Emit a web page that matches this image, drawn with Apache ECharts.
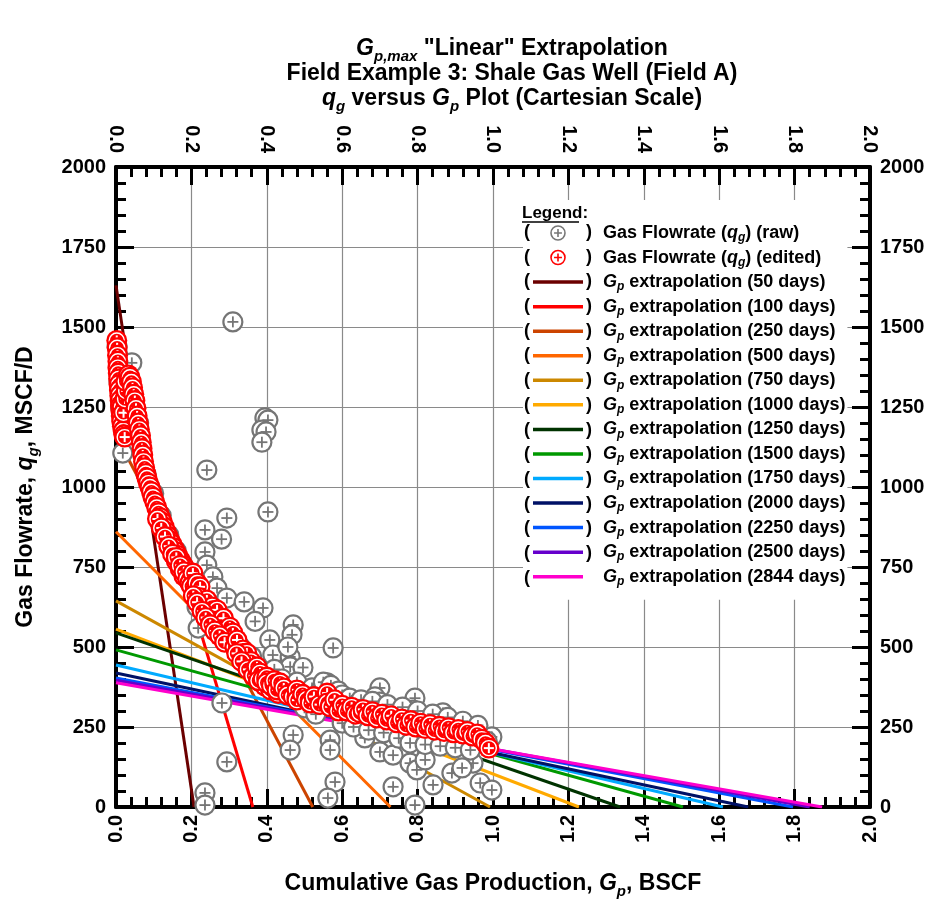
<!DOCTYPE html>
<html><head><meta charset="utf-8">
<script src="https://cdn.jsdelivr.net/npm/echarts@6/dist/echarts.min.js"></script>
<style>html,body{margin:0;padding:0;background:#fff}#c{width:950px;height:905px}</style>
</head><body><div id="c"></div>
<script>
const FONT = "'Liberation Sans', Arial, Helvetica, sans-serif";

// Axis definitions
const xMin = 0, xMax = 2.0, xStep = 0.2;
const yMin = 0, yMax = 2000, yStep = 250;

// Extrapolation lines: (Gp=0, q0) -> (GpMax, 0)
const extrapDays   = [50, 100, 250, 500, 750, 1000, 1250, 1500, 1750, 2000, 2250, 2500, 2844];
const extrapQ0     = [1630, 1435, 1160, 860, 644, 556, 544, 491, 444, 419, 403, 396, 388];
const extrapGpMax  = [0.207, 0.363, 0.522, 0.728, 0.992, 1.228, 1.337, 1.504, 1.61, 1.677, 1.796, 1.84, 1.873];
const extrapColors = ['#6b0000', '#ff0000', '#cc4400', '#ff6600', '#cc8800', '#ffaa00', '#003300', '#009900', '#00aaff', '#001166', '#0055ff', '#6600cc', '#ff00cc'];

// Gas flowrate (raw) [Gp BSCF, qg MSCF/D]
const rawData = [
  [0.003,1440],[0.008,1330],[0.012,1250],[0.018,1106],[0.042,1388],[0.03,1300],[0.06,1200],[0.08,1040],
  [0.10,980],[0.12,910],[0.14,850],[0.16,800],[0.18,750],[0.20,700],
  [0.310,1516],[0.241,1053],[0.395,1216],[0.403,1209],[0.387,1178],[0.398,1172],[0.387,1140],[0.403,922],
  [0.294,903],[0.236,866],[0.280,837],[0.236,797],[0.241,756],[0.257,719],[0.268,684],[0.294,653],
  [0.340,641],[0.390,622],[0.369,580],[0.470,569],[0.467,538],[0.408,522],[0.416,475],[0.462,469],
  [0.462,438],[0.496,436],[0.456,500],[0.576,497],[0.218,559],[0.215,625],[0.560,388],[0.281,325],
  [0.294,141],[0.236,44],[0.236,6],[0.470,225],[0.462,178],[0.568,209],[0.568,178],[0.581,78],
  [0.562,28],[0.700,372],[0.687,344],[0.700,328],[0.793,340],[0.788,303],[0.867,294],[0.878,278],
  [0.997,219],[0.660,216],[0.700,172],[0.735,162],[0.780,137],[0.798,116],[0.891,106],[0.820,147],
  [0.841,69],[0.735,63],[0.793,6],[0.966,75],[0.997,53],[0.947,137],[0.918,122],
  [0.25,600],[0.30,540],[0.33,500],[0.36,470],[0.42,430],[0.44,400],[0.48,390],[0.52,372],
  [0.54,360],[0.55,390],[0.57,380],[0.58,350],[0.59,362],[0.60,350],[0.62,340],[0.64,322],
  [0.65,335],[0.68,330],[0.72,320],[0.76,312],[0.80,300],[0.84,290],[0.88,280],[0.92,268],
  [0.96,255],[0.50,310],[0.53,290],[0.60,262],[0.63,250],[0.67,240],[0.71,232],[0.75,215],
  [0.78,200],[0.82,195],[0.86,190],[0.90,185],[0.94,178],[0.985,205]
];

// Gas flowrate (edited) [Gp BSCF, qg MSCF/D]
const editedData = [
  [0.002,1458],[0.003,1435],[0.004,1412],[0.005,1393],[0.005,1373],[0.006,1356],[0.007,1338],[0.008,1320],
  [0.009,1303],[0.010,1286],[0.011,1270],[0.012,1254],[0.013,1238],[0.014,1222],[0.015,1206],[0.017,1190],
  [0.019,1175],[0.021,1163],[0.023,1156],[0.016,1250],[0.020,1232],[0.024,1275],[0.027,1300],[0.026,1330],
  [0.033,1350],[0.037,1343],[0.041,1328],[0.044,1310],[0.047,1290],[0.050,1270],[0.053,1246],[0.056,1222],
  [0.059,1200],[0.062,1180],[0.065,1160],[0.067,1140],[0.069,1120],[0.071,1100],[0.073,1080],[0.076,1060],
  [0.079,1042],[0.082,1028],[0.086,1012],[0.090,1000],[0.094,985],[0.098,968],[0.103,952],[0.108,936],
  [0.113,920],[0.118,904],[0.123,890],[0.128,875],[0.133,860],[0.138,846],[0.143,833],[0.148,822],
  [0.153,810],[0.158,798],[0.163,787],[0.168,776],[0.173,766],[0.178,756],[0.183,745],[0.188,734],
  [0.110,900],[0.120,872],[0.130,845],[0.140,815],[0.150,790],[0.160,768],[0.170,745],[0.180,722],
  [0.160,780],[0.170,755],[0.180,735],[0.190,712],[0.196,700],[0.204,731],[0.200,690],[0.210,676],
  [0.215,700],[0.223,688],[0.220,655],[0.230,640],[0.241,647],[0.240,615],[0.249,594],[0.255,625],
  [0.268,616],[0.262,580],[0.276,575],[0.285,590],[0.290,550],[0.302,562],[0.300,525],[0.310,544],
  [0.205,660],[0.215,640],[0.228,612],[0.238,592],[0.250,570],[0.262,550],[0.275,535],[0.288,515],
  [0.315,500],[0.321,522],[0.330,470],[0.337,491],[0.347,481],[0.345,445],[0.358,455],[0.360,420],
  [0.320,480],[0.333,455],[0.350,430],[0.365,410],[0.380,392],[0.395,378],[0.410,366],[0.430,355],
  [0.374,438],[0.382,419],[0.378,395],[0.390,400],[0.400,406],[0.400,388],[0.412,380],[0.420,395],
  [0.427,366],[0.435,388],[0.445,372],[0.455,350],[0.470,344],[0.480,366],[0.480,334],[0.495,352],
  [0.505,336],[0.515,325],[0.525,345],[0.540,320],[0.560,356],[0.560,325],[0.568,313],[0.580,335],
  [0.590,300],[0.600,318],[0.612,300],[0.625,312],[0.635,290],[0.647,294],[0.655,305],[0.668,285],
  [0.680,298],[0.692,278],[0.705,290],[0.718,272],[0.730,285],[0.745,263],[0.758,275],[0.770,255],
  [0.782,270],[0.795,250],[0.808,262],[0.820,245],[0.833,258],[0.845,240],[0.858,252],[0.870,236],
  [0.882,248],[0.895,232],[0.908,242],[0.920,228],[0.932,236],[0.945,222],[0.958,228],[0.970,212],
  [0.980,200],[0.989,184]
];

const legendTitle = 'Legend';
const rawName = 'Gas Flowrate (qg) (raw)';
const editedName = 'Gas Flowrate (qg) (edited)';

const chart = echarts.init(document.getElementById('c'), null, {renderer: 'canvas'});

function rawItem(params, api) {
  const p = api.coord([api.value(0), api.value(1)]);
  const c = '#757575';
  return {type: 'group', children: [
    {type: 'circle', shape: {cx: p[0], cy: p[1], r: 9.5}, style: {fill: '#fff', stroke: c, lineWidth: 2.2}},
    {type: 'line', shape: {x1: p[0] - 5.5, y1: p[1], x2: p[0] + 5.5, y2: p[1]}, style: {stroke: c, lineWidth: 1.8}},
    {type: 'line', shape: {x1: p[0], y1: p[1] - 5.5, x2: p[0], y2: p[1] + 5.5}, style: {stroke: c, lineWidth: 1.8}}
  ]};
}
function editedItem(params, api) {
  const p = api.coord([api.value(0), api.value(1)]);
  return {type: 'group', children: [
    {type: 'circle', shape: {cx: p[0], cy: p[1], r: 10.5}, style: {fill: '#ff0000'}},
    {type: 'circle', shape: {cx: p[0], cy: p[1], r: 7.5}, style: {fill: 'none', stroke: '#fff', lineWidth: 1.4}},
    {type: 'line', shape: {x1: p[0] - 5, y1: p[1], x2: p[0] + 5, y2: p[1]}, style: {stroke: '#fff', lineWidth: 2}},
    {type: 'line', shape: {x1: p[0], y1: p[1] - 5, x2: p[0], y2: p[1] + 5}, style: {stroke: '#fff', lineWidth: 2}}
  ]};
}

const lineNames = extrapDays.map(d => 'Gp extrapolation (' + d + ' days)');
const lineSeries = extrapDays.map((d, i) => ({
  type: 'line', name: lineNames[i], xAxisIndex: 0, yAxisIndex: 0,
  data: [[0, extrapQ0[i]], [extrapGpMax[i], 0]],
  symbol: 'none', silent: true, animation: false, z: 2,
  lineStyle: {color: extrapColors[i], width: 3}, itemStyle: {color: extrapColors[i]}
}));

const iconPath = 'path://M0,8A8,8,0,1,1,16,8A8,8,0,1,1,0,8Z M8,3.5V12.5 M3.5,8H12.5';
const lineIcon = 'path://M0,0H50V3.5H0Z';

const richBase = {
  n: {fontFamily: FONT, fontWeight: 'bold', fontSize: 18, lineHeight: 18, color: '#000', verticalAlign: 'top'},
  i: {fontFamily: FONT, fontWeight: 'bold', fontStyle: 'italic', fontSize: 18, lineHeight: 18, color: '#000', verticalAlign: 'top'},
  s: {fontFamily: FONT, fontWeight: 'bold', fontStyle: 'italic', fontSize: 12, lineHeight: 10, padding: [8, 0, 0, 0], color: '#000', verticalAlign: 'top'},
  sp: {width: 15, lineHeight: 18, verticalAlign: 'top'}
};

function legendLabel(name) {
  if (name === rawName) return '{sp| }{n|Gas Flowrate (}{i|q}{s|g}{n|) (raw)}';
  if (name === editedName) return '{sp| }{n|Gas Flowrate (}{i|q}{s|g}{n|) (edited)}';
  const m = name.match(/\((\d+) days\)/);
  return '{sp| }{i|G}{s|p}{n| extrapolation (' + m[1] + ' days)}';
}

const legendTop = 200, rowPitch = 24.7, firstRow = 232;
const legendData = [
  {name: rawName, icon: iconPath, itemStyle: {color: '#fff', borderColor: '#777', borderWidth: 1.6}},
  {name: editedName, icon: iconPath, itemStyle: {color: '#fff', borderColor: '#ff0000', borderWidth: 1.6}}
].concat(lineNames.map((n, i) => ({name: n, icon: lineIcon, itemStyle: {color: extrapColors[i], borderWidth: 0}})));

const graphics = [];
// Title (three lines)
const titleRich = {
  n: {fontFamily: FONT, fontWeight: 'bold', fontSize: 23, color: '#000', lineHeight: 25, verticalAlign: 'top'},
  i: {fontFamily: FONT, fontWeight: 'bold', fontStyle: 'italic', fontSize: 23, color: '#000', lineHeight: 25, verticalAlign: 'top'},
  s: {fontFamily: FONT, fontWeight: 'bold', fontStyle: 'italic', fontSize: 15, color: '#000', lineHeight: 14, padding: [12, 0, 0, 0], verticalAlign: 'top'}
};
const titleLines = [
  '{i|G}{s|p,max}{n| "Linear" Extrapolation}',
  '{n|Field Example 3: Shale Gas Well (Field A)}',
  '{i|q}{s|g}{n| versus }{i|G}{s|p}{n| Plot (Cartesian Scale)}'
];
titleLines.forEach((t, k) => {
  graphics.push({type: 'text', x: 512, y: 37 + k * 25, z: 100,
    style: {text: t, rich: titleRich, align: 'center', verticalAlign: 'top'}});
});
// Legend heading and parentheses
graphics.push({type: 'text', x: 522, y: 213, z: 100,
  style: {text: legendTitle + ':', fontFamily: FONT, fontWeight: 'bold', fontSize: 17, fill: '#000', verticalAlign: 'middle'}});
graphics.push({type: 'line', z: 100, shape: {x1: 522, y1: 222, x2: 579, y2: 222}, style: {stroke: '#000', lineWidth: 1.5}});
for (let k = 0; k < legendData.length; k++) {
  const yy = firstRow + k * rowPitch;
  graphics.push({type: 'text', x: 524, y: yy, z: 100,
    style: {text: '(', fontFamily: FONT, fontWeight: 'bold', fontSize: 18, fill: '#000', verticalAlign: 'middle'}});
  if (k < legendData.length - 1) {
    graphics.push({type: 'text', x: 586, y: yy, z: 100,
      style: {text: ')', fontFamily: FONT, fontWeight: 'bold', fontSize: 18, fill: '#000', verticalAlign: 'middle'}});
  }
}

const axisLabelStyle = {fontFamily: FONT, fontWeight: 'bold', fontSize: 20, color: '#000'};
const tickStyle = {color: '#000', width: 3};
const nameRich = {
  n: {fontFamily: FONT, fontWeight: 'bold', fontSize: 23, lineHeight: 24, color: '#000', verticalAlign: 'top'},
  i: {fontFamily: FONT, fontWeight: 'bold', fontStyle: 'italic', fontSize: 23, lineHeight: 24, color: '#000', verticalAlign: 'top'},
  s: {fontFamily: FONT, fontWeight: 'bold', fontStyle: 'italic', fontSize: 15, lineHeight: 13, padding: [12, 0, 0, 0], color: '#000', verticalAlign: 'top'}
};
function xAxisDef(pos, withName) {
  return {
    type: 'value', position: pos, min: xMin, max: xMax, interval: xStep,
    axisLine: {show: true, onZero: false, lineStyle: {color: '#000', width: 4}},
    axisTick: {show: true, inside: true, length: 18, lineStyle: tickStyle},
    minorTick: {show: true, splitNumber: 5, length: 10, lineStyle: tickStyle},
    splitLine: {show: pos === 'bottom', lineStyle: {color: '#8a8a8a', width: 1.2}},
    minorSplitLine: {show: false},
    axisLabel: Object.assign({rotate: 90, margin: pos === 'bottom' ? 8 : 14, formatter: v => v.toFixed(1)}, axisLabelStyle),
    name: withName ? '{n|Cumulative Gas Production, }{i|G}{s|p}{n|, BSCF}' : '',
    nameLocation: 'middle', nameGap: 65,
    nameTextStyle: {rich: nameRich}
  };
}
function yAxisDef(pos, withName) {
  return {
    type: 'value', position: pos, min: yMin, max: yMax, interval: yStep,
    axisLine: {show: true, onZero: false, lineStyle: {color: '#000', width: 4}},
    axisTick: {show: true, inside: true, length: 18, lineStyle: tickStyle},
    minorTick: {show: true, splitNumber: 5, length: 10, lineStyle: tickStyle},
    splitLine: {show: pos === 'left', lineStyle: {color: '#8a8a8a', width: 1.2}},
    minorSplitLine: {show: false},
    axisLabel: Object.assign({margin: 10, formatter: v => String(v)}, axisLabelStyle),
    name: withName ? '{n|Gas Flowrate, }{i|q}{s|g}{n|, MSCF/D}' : '',
    nameLocation: 'middle', nameGap: 78,
    nameTextStyle: {rich: nameRich}
  };
}

const option = {
  backgroundColor: '#fff',
  animation: false,
  grid: {left: 116, right: 80, top: 167, bottom: 98, containLabel: false},
  xAxis: [xAxisDef('bottom', true), xAxisDef('top', false)],
  yAxis: [yAxisDef('left', true), yAxisDef('right', false)],
  legend: {
    orient: 'vertical', left: 523, top: legendTop,
    padding: [firstRow - legendTop - 8, 2, 12, 10],
    itemWidth: 50, itemHeight: 14, itemGap: 4.55,
    backgroundColor: '#fff', selectedMode: false,
    data: legendData,
    formatter: legendLabel,
    textStyle: {fontFamily: FONT, fontWeight: 'bold', fontSize: 18, color: '#000', rich: richBase}
  },
  graphic: graphics,
  series: lineSeries.concat([
    {type: 'custom', name: rawName, coordinateSystem: 'cartesian2d', xAxisIndex: 0, yAxisIndex: 0,
     renderItem: rawItem, data: rawData, z: 3, silent: true, itemStyle: {color: '#fff', borderColor: '#777'}},
    {type: 'custom', name: editedName, coordinateSystem: 'cartesian2d', xAxisIndex: 0, yAxisIndex: 0,
     renderItem: editedItem, data: editedData, z: 4, silent: true, itemStyle: {color: '#ff0000'}}
  ])
};
chart.setOption(option);
</script></body></html>
